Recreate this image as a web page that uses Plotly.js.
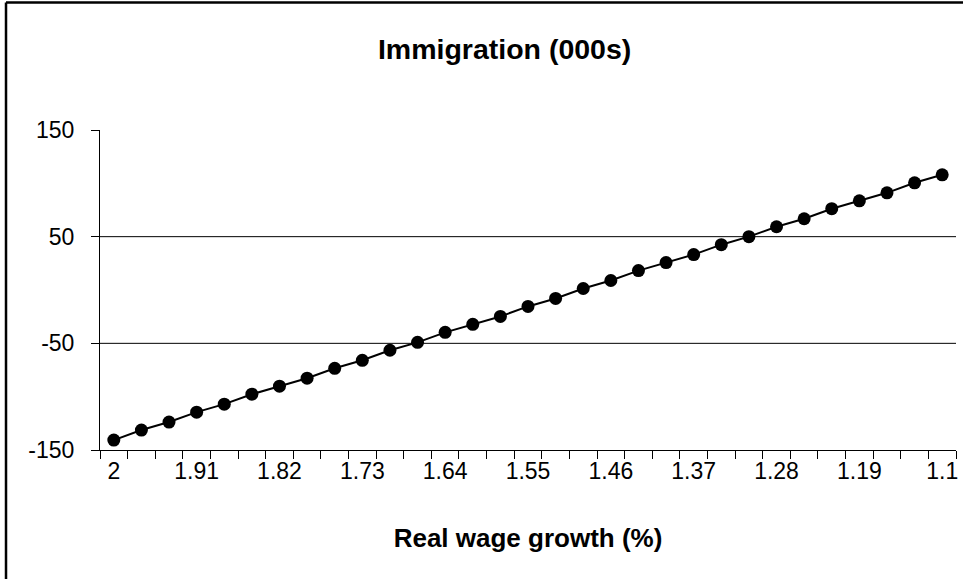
<!DOCTYPE html>
<html>
<head>
<meta charset="utf-8">
<script src="https://cdn.plot.ly/plotly-3.0.1.min.js"></script>
<style>
  html, body { margin: 0; padding: 0; background: #ffffff; }
  #chart { width: 963px; height: 579px; }
</style>
</head>
<body>
<div id="chart"></div>
<script>
// Real wage growth (%) categories
const wageGrowth = ["2","1.97","1.94","1.91","1.88","1.85","1.82","1.79","1.76","1.73",
  "1.7","1.67","1.64","1.61","1.58","1.55","1.52","1.49","1.46","1.43",
  "1.4","1.37","1.34","1.31","1.28","1.25","1.22","1.19","1.16","1.13","1.1"];
// Immigration (000s)
const immigration = [-140.7,-131.3,-123.8,-114.5,-107.0,-97.7,-90.2,-82.7,-73.4,-65.9,
  -56.5,-49.1,-39.7,-32.2,-24.8,-15.4,-7.9,1.4,8.9,18.2,
  25.7,33.2,42.5,50.0,59.3,66.8,76.2,83.6,91.1,100.5,108.0];
// Labelled x ticks
const xTickLabels = ["2","1.91","1.82","1.73","1.64","1.55","1.46","1.37","1.28","1.19","1.1"];
const yTickVals = [-150, -50, 50, 150];
const yGridVals = [-50, 50];

const FONT = "Arial, 'Liberation Sans', sans-serif";

const trace = {
  x: wageGrowth,
  y: immigration,
  type: "scatter",
  mode: "lines+markers",
  line: { color: "#000000", width: 2 },
  marker: { color: "#000000", size: 13, symbol: "circle" },
  hoverinfo: "x+y",
  showlegend: false,
  cliponaxis: false
};

const shapes = yGridVals.map(v => ({
  type: "line", xref: "paper", yref: "y", x0: 0, x1: 1, y0: v, y1: v,
  line: { color: "#000000", width: 1 }, layer: "below"
}));
// outer chart frame (left and top edges visible)
shapes.push({ type: "line", xref: "paper", yref: "paper",
  x0: -0.1098, x1: -0.1098, y0: -0.5, y1: 1.3985,
  line: { color: "#000000", width: 2.5 } });
shapes.push({ type: "line", xref: "paper", yref: "paper",
  x0: -0.1098, x1: 1.1, y0: 1.3985, y1: 1.3985,
  line: { color: "#000000", width: 2.5 } });

const layout = {
  width: 963,
  height: 579,
  margin: { l: 100, r: 7, t: 130, b: 129 },
  paper_bgcolor: "#ffffff",
  plot_bgcolor: "#ffffff",
  font: { family: FONT, color: "#000000" },
  title: {
    text: "<b>Immigration (000s)</b>",
    font: { family: FONT, size: 28.5, color: "#000000" },
    xref: "container", yref: "container",
    x: 0.524, y: 0.915, xanchor: "center", yanchor: "middle"
  },
  xaxis: {
    type: "category",
    range: [-0.5, wageGrowth.length - 0.5],
    autorange: false,
    tickmode: "array",
    tickvals: wageGrowth,
    ticktext: wageGrowth.map(c => xTickLabels.includes(c) ? c : ""),
    tickson: "boundaries",
    tickangle: 0,
    ticks: "outside",
    ticklen: 8,
    tickwidth: 1,
    tickcolor: "#000000",
    showline: true,
    linecolor: "#000000",
    linewidth: 1,
    showgrid: false,
    zeroline: false,
    tickfont: { family: FONT, size: 23, color: "#000000" },
    title: {
      text: "<b>Real wage growth (%)</b>",
      font: { family: FONT, size: 26, color: "#000000" },
      standoff: 46
    }
  },
  yaxis: {
    range: [-150, 150],
    autorange: false,
    tickmode: "array",
    tickvals: yTickVals,
    ticktext: yTickVals.map(String),
    ticks: "outside",
    ticklen: 8,
    tickwidth: 1,
    tickcolor: "#000000",
    showline: true,
    linecolor: "#000000",
    linewidth: 1,
    showgrid: false,
    zeroline: false,
    ticklabelstandoff: 12,
    tickfont: { family: FONT, size: 23, color: "#000000" }
  },
  shapes: shapes
};

Plotly.newPlot("chart", [trace], layout, { displayModeBar: false, staticPlot: true });
</script>
</body>
</html>
